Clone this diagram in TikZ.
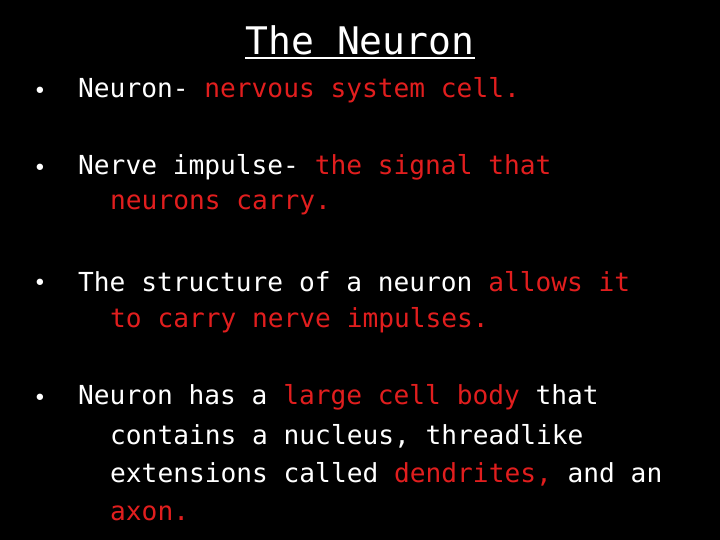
\documentclass[tikz,border=0pt]{standalone}
\usepackage{fontspec}
\setmainfont{DejaVu Sans Mono}
\definecolor{rd}{RGB}{225,30,30}
\begin{document}
\begin{tikzpicture}[x=1pt,y=-1pt,
  ln/.style={anchor=west,inner sep=0pt,text=white,font=\fontsize{26.2}{30}\selectfont},
  bul/.style={anchor=center,inner sep=0pt,text=white,font=\fontsize{22}{26}\selectfont}]
\fill[black] (0,0) rectangle (720,540);
\useasboundingbox (0,0) rectangle (720,540);
\node[inner sep=0pt,text=white,font=\fontsize{38}{42}\selectfont] (t) at (360,40) {The Neuron};
\draw[white,line width=2pt] ([yshift=-3pt]t.south west) -- ([yshift=-3pt]t.south east);
\node[bul] (b1) at (40,93) {•};
\node[ln] (l1) at (78,90) {Neuron- \textcolor{rd}{nervous system cell.}};
\node[bul] (b2) at (40,170) {•};
\node[ln] (l2) at (78,167) {Nerve impulse- \textcolor{rd}{the signal that}};
\node[ln] (l3) at (110,205) {\textcolor{rd}{neurons carry.}};
\node[bul] (b3) at (40,285) {•};
\node[ln] (l4) at (78,282) {The structure of a neuron \textcolor{rd}{allows it}};
\node[ln] (l5) at (110,320) {\textcolor{rd}{to carry nerve impulses.}};
\node[bul] (b4) at (40,400) {•};
\node[ln] (l6) at (78,397) {Neuron has a \textcolor{rd}{large cell body} that};
\node[ln] (l7) at (110,436) {contains a nucleus, threadlike};
\node[ln] (l8) at (110,474) {extensions called \textcolor{rd}{dendrites,} and an};
\node[ln] (l9) at (110,513) {\textcolor{rd}{axon.}};
\end{tikzpicture}
\end{document}
